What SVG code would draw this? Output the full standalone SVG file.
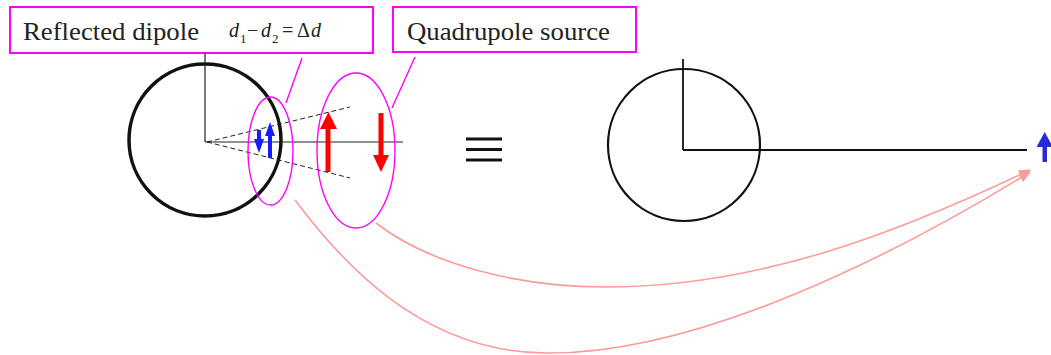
<svg xmlns="http://www.w3.org/2000/svg" width="1051" height="355" viewBox="0 0 1051 355">
<style>
.box{fill:#fff;stroke:#ff00ff;stroke-width:2}
.lbl{font-family:"Liberation Serif","DejaVu Serif","Times New Roman",serif;font-size:25px;fill:#222}
.math{font-family:"Liberation Serif","DejaVu Serif","Times New Roman",serif;font-size:20px;fill:#222}
.it{font-style:italic}
.sub{font-size:13px}
.mag{fill:none;stroke:#ff00ff;stroke-width:1.4}
.axis{stroke:#222;stroke-width:1.2;fill:none}
.dash{stroke:#222;stroke-width:1;stroke-dasharray:5 3;fill:none}
.conn{fill:none;stroke:#ff9a9a;stroke-width:1.6}
.red{fill:#ff0000}
.blue{fill:#1a1aff}
.eq{stroke:#111;stroke-width:3}
</style>
<defs>
<marker id="ah" viewBox="0 0 12 10" refX="11" refY="5" markerWidth="12" markerHeight="10" markerUnits="userSpaceOnUse" orient="auto">
<path d="M0,0 L12,5 L0,10 Z" fill="#ff9a9a"/>
</marker>
</defs>
<rect width="1051" height="355" fill="#fff"/>

<g id="label-reflected">
<rect class="box" x="10" y="7" width="363" height="46"/>
<text class="lbl" x="23" y="40" textLength="176" lengthAdjust="spacingAndGlyphs">Reflected dipole</text>
<text class="math"><tspan class="it" x="229" y="37">d</tspan><tspan class="sub" x="240" y="43">1</tspan><tspan x="247" y="37">−</tspan><tspan class="it" x="261" y="37">d</tspan><tspan class="sub" x="272" y="43">2</tspan><tspan x="282" y="37">=</tspan><tspan x="297" y="37">Δ</tspan><tspan class="it" x="311" y="37">d</tspan></text>
</g>

<g id="label-quadrupole">
<rect class="box" x="393" y="7" width="243" height="45"/>
<text class="lbl" x="407" y="40" textLength="203" lengthAdjust="spacingAndGlyphs">Quadrupole source</text>
</g>

<g id="sphere-left">
<circle cx="205" cy="140" r="76" fill="none" stroke="#111" stroke-width="3.5"/>
<line class="axis" x1="205" y1="53" x2="205" y2="142"/>
<line class="axis" x1="205" y1="142" x2="403" y2="142"/>
<line class="dash" x1="207" y1="142" x2="350" y2="107"/>
<line class="dash" x1="207" y1="142" x2="350" y2="178"/>
</g>

<g id="reflected-dipole">
<ellipse class="mag" cx="270.5" cy="151" rx="22.5" ry="54"/>
<line class="mag" x1="302" y1="58" x2="286" y2="103"/>
<rect class="blue" x="257" y="130" width="4" height="12"/>
<polygon class="blue" points="254,139 264,139 259,153"/>
<rect class="blue" x="268" y="132" width="4" height="26"/>
<polygon class="blue" points="265,136 275,136 270,122"/>
</g>

<g id="quadrupole-source">
<ellipse class="mag" cx="356" cy="150.5" rx="39" ry="77.5"/>
<line class="mag" x1="415" y1="57" x2="392" y2="108"/>
<rect class="red" x="325.5" y="127" width="5" height="45"/>
<polygon class="red" points="320,129 337,129 328.5,112"/>
<rect class="red" x="378.5" y="113" width="5" height="44"/>
<polygon class="red" points="373,155 389,155 381,172"/>
</g>

<g id="equiv">
<line class="eq" x1="466" y1="139" x2="502" y2="139"/>
<line class="eq" x1="466" y1="149.5" x2="502" y2="149.5"/>
<line class="eq" x1="466" y1="160" x2="502" y2="160"/>
</g>

<g id="sphere-right">
<circle cx="684" cy="145" r="76" fill="none" stroke="#111" stroke-width="2.2"/>
<line x1="683" y1="59" x2="683" y2="150" stroke="#111" stroke-width="1.8"/>
<line x1="683" y1="150" x2="1027" y2="150" stroke="#111" stroke-width="1.8"/>
</g>

<g id="equivalent-dipole">
<rect x="1042.5" y="143" width="4.5" height="19" fill="#2b2bd6"/>
<polygon points="1036.5,147 1053,147 1044.7,132" fill="#2b2bd6"/>
</g>

<g id="connectors">
<path class="conn" d="M376,223 C430,265 520,287 605,287 C760,287 900,232 1030,170" marker-end="url(#ah)"/>
<path class="conn" d="M295,200 C340,260 420,352 545,353 C700,355 900,252 1030,172" marker-end="url(#ah)"/>
</g>
</svg>
